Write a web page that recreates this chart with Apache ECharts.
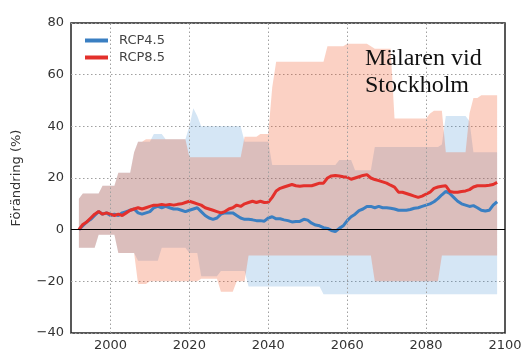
<!DOCTYPE html>
<html>
<head>
<meta charset="utf-8">
<script src="https://cdn.jsdelivr.net/npm/echarts@6/dist/echarts.min.js"></script>
<style>
  html, body { margin: 0; padding: 0; background: #fff; }
  #chart { width: 525px; height: 352px; }
</style>
</head>
<body>
<div id="chart"></div>
<script>
// first year of every series, one value per year up to 2098
var firstYear = 1992;

// ensemble mean RCP4.5
var rcp45 = [
  0, 1.5, 3, 4, 5.5, 7, 6, 6.5,
  5.5, 6, 5.5, 6.5, 7, 7.5, 8, 6.5, 6, 6.5,
  7, 8.5, 9, 8.5, 9, 8.5, 8, 8, 7.5, 7,
  7.5, 8, 8.5, 7, 5.5, 4.5, 4, 4.5, 6, 6.5,
  6.5, 6.5, 5.5, 4.5, 4, 4, 3.8, 3.5, 3.5, 3.3,
  4.5, 5, 4.2, 4.2, 3.8, 3.5, 3, 3.2, 3.2, 4,
  3.7, 2.5, 1.8, 1.5, 0.8, 0.5, -0.3, -0.7, 0.5, 1.5,
  3.5, 5, 6, 7.4, 8, 9, 9, 8.5, 9, 8.5,
  8.5, 8.3, 8, 7.5, 7.5, 7.5, 7.8, 8.3, 8.5, 9,
  9.5, 10, 10.8, 12, 13.5, 14.8, 14, 12.5, 11, 10,
  9.5, 9, 9.3, 8.5, 7.5, 7.2, 7.5, 9.5, 10.8
];

// ensemble mean RCP8.5
var rcp85 = [
  0, 2, 3, 4.5, 6, 7, 6, 6.5,
  6, 5.5, 6, 5.5, 6.5, 7.5, 8, 8.5, 8, 8.5,
  9, 9.5, 9.5, 9.8, 9.5, 9.8, 9.5, 9.8, 10, 10.5,
  11, 10.5, 10, 9.5, 8.5, 8, 7.5, 7, 6.5, 7,
  8, 8.5, 9.5, 9, 10, 10.5, 11, 10.5, 11, 10.5,
  10.6, 12.5, 15, 16, 16.5, 17, 17.5, 17, 16.8, 17,
  17, 17, 17.5, 18, 18, 20, 20.8, 21, 20.8, 20.5,
  20.3, 19.5, 20, 20.5, 21, 21.3, 20, 19.4, 19, 18.5,
  18, 17.2, 16.5, 14.5, 14.5, 14, 13.5, 13, 12.5, 13,
  13.8, 14.5, 16, 16.5, 16.8, 17, 14.8, 14.5, 14.5, 14.8,
  15, 15.5, 16.5, 17, 17, 17, 17.2, 17.5, 18.3
];

// spread RCP4.5 (max / min)
var rcp45High = [
  12, 14, 14, 14, 14, 14, 17, 17,
  17, 17, 22, 22, 22, 22, 30, 34, 34, 34,
  34, 37, 37, 37, 35, 35, 35, 35, 35, 35,
  40, 47, 44, 40, 40, 40, 40, 40, 40, 40,
  40, 40, 40, 40, 34, 34, 34, 34, 34, 34,
  34, 25, 25, 25, 25, 25, 25, 25, 25, 25,
  25, 25, 25, 25, 25, 25, 25, 25, 27, 27,
  27, 27, 23, 23, 23, 23, 23, 32, 32, 32,
  32, 32, 32, 32, 32, 32, 32, 32, 32, 32,
  32, 32, 32, 32, 33, 44, 44, 44, 44, 44,
  44, 42, 30, 30, 30, 30, 30, 30, 30
];
var rcp45Low = [
  -7, -7, -7, -7, -7, -2, -2, -2,
  -2, -2, -9, -9, -9, -9, -9, -12, -12, -12,
  -12, -12, -12, -7, -7, -7, -7, -7, -7, -7,
  -9, -9, -9, -18, -18, -18, -18, -18, -16, -16,
  -16, -16, -16, -16, -16, -22, -22, -22, -22, -22,
  -22, -22, -22, -22, -22, -22, -22, -22, -22, -22,
  -22, -22, -22, -22, -25, -25, -25, -25, -25, -25,
  -25, -25, -25, -25, -25, -25, -25, -25, -25, -25,
  -25, -25, -25, -25, -25, -25, -25, -25, -25, -25,
  -25, -25, -25, -25, -25, -25, -25, -25, -25, -25,
  -25, -25, -25, -25, -25, -25, -25, -25, -25
];

// spread RCP8.5 (max / min)
var rcp85High = [
  12, 14, 14, 14, 14, 14, 17, 17,
  17, 17, 22, 22, 22, 22, 30, 34, 34, 35,
  35, 35, 35, 35, 35, 35, 35, 35, 35, 35,
  28, 28, 28, 28, 28, 28, 28, 28, 28, 28,
  28, 28, 28, 28, 36, 36, 36, 36, 37, 37,
  37, 55, 65, 65, 65, 65, 65, 65, 65, 65,
  65, 65, 65, 65, 65, 71, 71, 71, 71, 71,
  72, 72, 72, 72, 72, 72, 71, 70, 70, 70,
  70, 70, 43, 43, 43, 43, 43, 43, 43, 43,
  43, 45, 46, 46, 46, 30, 30, 30, 30, 30,
  30, 45, 51, 51, 52, 52, 52, 52, 52
];
var rcp85Low = [
  -7, -7, -7, -7, -7, -2, -2, -2,
  -2, -2, -9, -9, -9, -9, -9, -21, -21, -21,
  -20, -20, -20, -20, -20, -20, -20, -20, -20, -20,
  -20, -20, -20, -19, -19, -19, -19, -19, -24, -24,
  -24, -24, -20, -20, -20, -10, -10, -10, -10, -10,
  -10, -10, -10, -10, -10, -10, -10, -10, -10, -10,
  -10, -10, -10, -10, -10, -10, -10, -10, -10, -10,
  -10, -10, -10, -10, -10, -10, -10, -20, -20, -20,
  -20, -20, -20, -20, -20, -20, -20, -20, -20, -20,
  -20, -20, -20, -20, -10, -10, -10, -10, -10, -10,
  -10, -10, -10, -10, -10, -10, -10, -10, -10
];

var gridYears = [2000, 2020, 2040, 2060, 2080];

var years = rcp45.map(function (v, i) { return firstYear + i; });

function pairs(arr) {
  return arr.map(function (v, i) { return [years[i], v]; });
}

var chart = echarts.init(document.getElementById('chart'));

var dotted = { color: '#a0a0a0', type: [1.5, 2.5], width: 1 };

// spread drawn as one polygon: upper edge forward, lower edge back
function band(name, lo, hi, color) {
  return {
    name: name, type: 'custom', silent: true, z: 1,
    data: [[years[0], lo[0]]],
    clip: true,
    renderItem: function (params, api) {
      var pts = [];
      for (var i = 0; i < years.length; i++) pts.push(api.coord([years[i], hi[i]]));
      for (var j = years.length - 1; j >= 0; j--) pts.push(api.coord([years[j], lo[j]]));
      return { type: 'polygon', shape: { points: pts }, style: { fill: color } };
    }
  };
}

var series = [
  band('b45', rcp45Low, rcp45High, 'rgba(30,120,200,0.19)'),
  band('b85', rcp85Low, rcp85High, 'rgba(240,70,20,0.25)'),
  {
    name: 'RCP4.5', type: 'line', data: pairs(rcp45), symbol: 'none',
    lineStyle: { color: '#3a7fc2', width: 3 }, itemStyle: { color: '#3a7fc2' }, z: 3,
    markLine: {
      silent: true, symbol: 'none', label: { show: false },
      data: gridYears.map(function (y) { return { xAxis: y, lineStyle: dotted }; })
        .concat([{ yAxis: 0, lineStyle: { color: '#000', type: 'solid', width: 1.2 } }])
    }
  }, {
    name: 'RCP8.5', type: 'line', data: pairs(rcp85), symbol: 'none',
    lineStyle: { color: '#e3302b', width: 3 }, itemStyle: { color: '#e3302b' }, z: 4
  }
];

var option = {
  animation: false,
  textStyle: { fontFamily: 'DejaVu Sans' },
  grid: {
    left: 71, right: 20, top: 23, bottom: 19,
    show: true, borderColor: '#222', borderWidth: 1.5, backgroundColor: 'transparent'
  },
  legend: {
    data: [{ name: 'RCP4.5', icon: 'rect' }, { name: 'RCP8.5', icon: 'rect' }],
    orient: 'vertical', left: 80, top: 29,
    itemWidth: 23, itemHeight: 4, itemGap: 4,
    textStyle: { fontSize: 13, color: '#444', padding: [0, 0, 0, 6] }
  },
  xAxis: {
    type: 'value', min: 1990, max: 2100, interval: 10,
    axisLine: { show: false },
    axisTick: { show: false },
    splitLine: { show: false },
    axisLabel: {
      fontSize: 13, color: '#333', margin: 6,
      formatter: function (v) { return v % 20 === 0 ? String(v) : ''; }
    }
  },
  yAxis: {
    type: 'value', min: -40, max: 80, interval: 20,
    name: 'Förändring (%)', nameLocation: 'middle', nameGap: 48,
    nameTextStyle: { fontSize: 13, color: '#333' },
    axisLine: { show: false },
    axisTick: { show: false },
    splitLine: { lineStyle: dotted },
    axisLabel: {
      fontSize: 13, color: '#333', margin: 7,
      formatter: function (v) { return String(v).replace('-', '\u2212'); }
    }
  },
  graphic: [{
    type: 'text', left: 365, top: 45,
    style: {
      text: 'Mälaren vid\nStockholm',
      font: '24px "Liberation Serif"', fill: '#111', lineHeight: 27
    },
    z: 10
  }],
  series: series
};

chart.setOption(option);
</script>
</body>
</html>
